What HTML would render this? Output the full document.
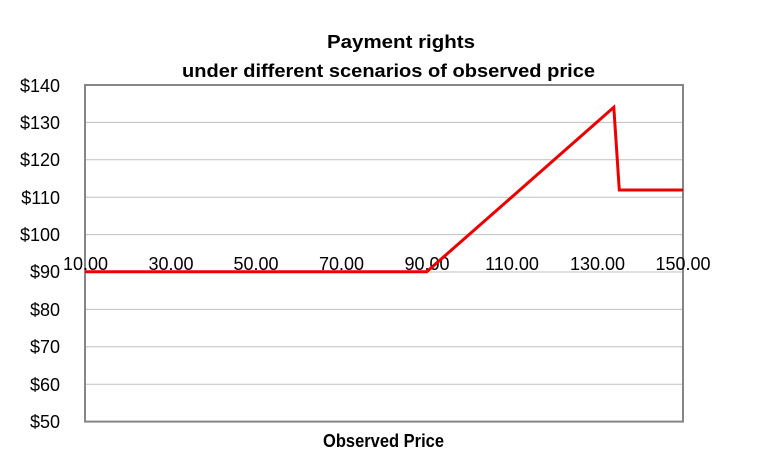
<!DOCTYPE html>
<html>
<head>
<meta charset="utf-8">
<style>
  html,body{margin:0;padding:0;background:#fff;}
  svg{display:block;}
  text{font-family:"Liberation Sans",sans-serif;fill:#000;}
</style>
</head>
<body>
<svg width="768" height="472" viewBox="0 0 768 472" xmlns="http://www.w3.org/2000/svg">
  <rect width="768" height="472" fill="#fff"/>
  <!-- title -->
  <text x="401" y="48" font-size="18.5" font-weight="bold" text-anchor="middle" textLength="148" lengthAdjust="spacingAndGlyphs">Payment rights</text>
  <text x="388.5" y="77" font-size="18.5" font-weight="bold" text-anchor="middle" textLength="413" lengthAdjust="spacingAndGlyphs">under different scenarios of observed price</text>

  <!-- gridlines -->
  <g stroke="#bfbfbf" stroke-width="1">
    <line x1="85" y1="122.4" x2="683" y2="122.4"/>
    <line x1="85" y1="159.8" x2="683" y2="159.8"/>
    <line x1="85" y1="197.2" x2="683" y2="197.2"/>
    <line x1="85" y1="234.6" x2="683" y2="234.6"/>
    <line x1="85" y1="272" x2="683" y2="272"/>
    <line x1="85" y1="309.4" x2="683" y2="309.4"/>
    <line x1="85" y1="346.8" x2="683" y2="346.8"/>
    <line x1="85" y1="384.2" x2="683" y2="384.2"/>
  </g>
  <!-- plot border -->
  <rect x="85" y="85" width="598" height="336.6" fill="none" stroke="#868686" stroke-width="2"/>

  <!-- y labels -->
  <g font-size="18" text-anchor="end">
    <text x="60" y="92">$140</text>
    <text x="60" y="129">$130</text>
    <text x="60" y="166">$120</text>
    <text x="60" y="204">$110</text>
    <text x="60" y="241">$100</text>
    <text x="60" y="278">$90</text>
    <text x="60" y="316">$80</text>
    <text x="60" y="353">$70</text>
    <text x="60" y="391">$60</text>
    <text x="60" y="428">$50</text>
  </g>

  <!-- x labels -->
  <g font-size="18" text-anchor="middle">
    <text x="85.5" y="270">10.00</text>
    <text x="171" y="270">30.00</text>
    <text x="256" y="270">50.00</text>
    <text x="341.5" y="270">70.00</text>
    <text x="427" y="270">90.00</text>
    <text x="512" y="270">110.00</text>
    <text x="597.5" y="270">130.00</text>
    <text x="683" y="270">150.00</text>
  </g>

  <!-- series -->
  <polyline points="85,271.8 426.7,271.8 613.8,107.3 619.3,190 683,190" fill="none" stroke="#ee0000" stroke-width="3" stroke-linejoin="miter"/>

  <!-- x axis title -->
  <text x="383.5" y="447" font-size="18" font-weight="bold" text-anchor="middle" textLength="121" lengthAdjust="spacingAndGlyphs">Observed Price</text>
</svg>
</body>
</html>
